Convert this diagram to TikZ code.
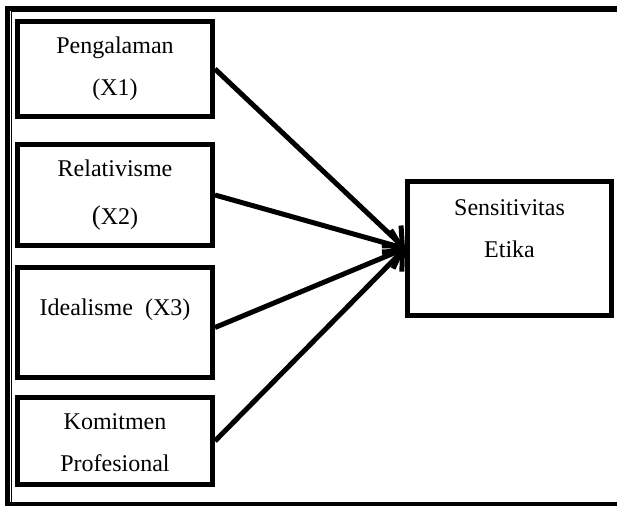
\documentclass[tikz,border=0pt]{standalone}
\usepackage{fontspec}
\setmainfont{Liberation Serif}
\usetikzlibrary{arrows.meta,positioning}
\definecolor{lineblack}{RGB}{0,0,0}

\begin{document}
\begin{tikzpicture}[x=1pt, y=-1pt,
  varbox/.style={rectangle, draw=lineblack, line width=5pt, minimum width=195pt, inner sep=0pt},
  vartext/.style={align=center, inner sep=0pt, font=\fontsize{24}{42}\selectfont},
  link/.style={-{Straight Barb[length=15pt,width=28pt]}, line width=5pt, draw=lineblack}]
\useasboundingbox (0,0) rectangle (617,506);

% frame
\draw[lineblack, line width=5pt] (7.5,506) -- (7.5,8) -- (617,8);
\draw[lineblack, line width=4pt] (5,504) -- (617,504);
\draw[lineblack, line width=1pt] (11.5,502) -- (11.5,11.5) -- (617,11.5);

% independent variables
\node[varbox, minimum height=95pt] (x1) at (115,69) {};
\node[varbox, minimum height=101pt, below=23pt of x1] (x2) {};
\node[varbox, minimum height=110pt, below=17pt of x2] (x3) {};
\node[varbox, minimum height=87pt, below=15pt of x3] (x4) {};
\node[vartext] (x1t) at (x1.center) {Pengalaman\\(X1)};
\node[vartext] (x2t) at (x2.center) {Relativisme\\[6pt]{\fontsize{27}{27}\selectfont(}X2)};
\node[vartext] (x3t) at ([yshift=12.5pt]x3.center) {Idealisme~~(X3)};
\node[vartext] (x4t) at ([yshift=-2pt]x4.center) {Komitmen\\Profesional};

% dependent variable
\node[varbox, minimum width=204pt, minimum height=134pt] (y) at (509.5,248.5) {};
\node[vartext] (yt) at ([yshift=20pt]y.center) {Sensitivitas\\Etika};

\draw[link] (x1.east) -- (y.west);
\draw[link] (x2.east) -- (y.west);
\draw[link] ([yshift=-5pt]x3.east) -- (y.west);
\draw[link] (x4.east) -- (y.west);
\end{tikzpicture}
\end{document}
